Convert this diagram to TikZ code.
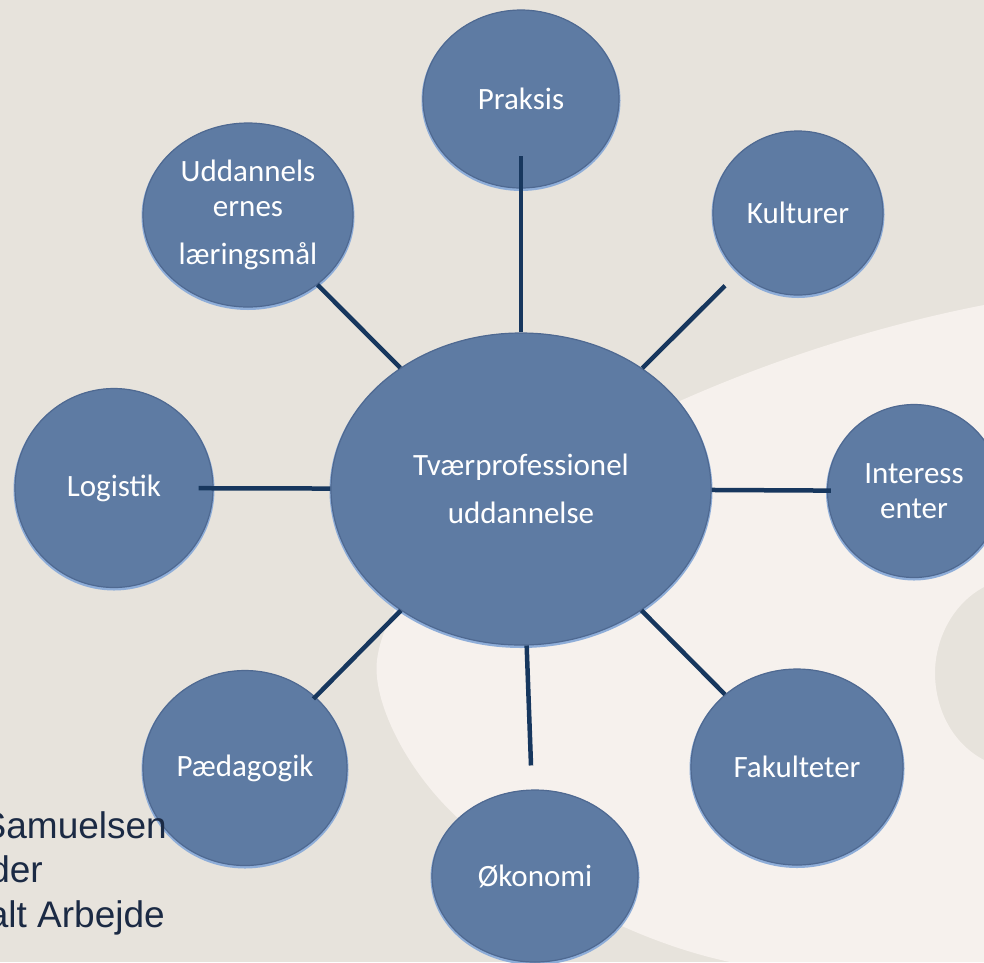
\documentclass[tikz,border=0pt]{standalone}
\usepackage{fontspec}
\usetikzlibrary{shapes.geometric}
\newfontfamily\carlito{Carlito}
\newfontfamily\libsans{Liberation Sans}
\definecolor{bgbeige}{HTML}{E7E3DC}
\definecolor{bglight}{HTML}{F6F1ED}
\definecolor{circfill}{HTML}{5E7BA3}
\definecolor{circrim}{HTML}{4F6991}
\definecolor{rimlight}{HTML}{8EADD8}
\definecolor{linkcol}{HTML}{17375E}
\definecolor{textdark}{HTML}{1B2A44}
\begin{document}
\begin{tikzpicture}[x=1pt,y=-1pt,
  bubble/.style={ellipse, inner sep=0pt, fill=circfill, draw=circrim, line width=1.2pt,
    text=white, font=\carlito\fontsize{31}{35}\selectfont, align=center,
    preaction={draw=rimlight, line width=3pt, transform canvas={yshift=-1.5pt}}},
  link/.style={draw=linkcol, line width=4.5pt},
  credit/.style={anchor=base east, text=textdark, inner sep=0pt,
    font=\libsans\fontsize{37}{44}\selectfont}]
\useasboundingbox (0,0) rectangle (984,962);
\clip (0,0) rectangle (984,962);
\fill[bgbeige] (0,0) rectangle (984,962);
\fill[bglight] (984,305) .. controls (700,360) and (395,520) .. (377,660)
  .. controls (372,700) and (405,770) .. (460,820)
  .. controls (548,900) and (650,945) .. (730,962)
  -- (984,962) -- (984,760)
  .. controls (950,742) and (935,706) .. (935,673)
  .. controls (935,640) and (952,604) .. (984,587) -- cycle;

\node[bubble, minimum width=380pt, minimum height=312pt] (main) at (521,489) {Tværprofessionel\\[13pt]uddannelse};
\node[bubble, minimum width=196pt, minimum height=178pt] (praksis) at (521,99) {Praksis};
\node[bubble, minimum width=170pt, minimum height=164pt] (kulturer) at (798,213) {Kulturer};
\node[bubble, minimum width=173pt, minimum height=173pt] (interessenter) at (914,491) {Interess\\enter};
\node[bubble, minimum width=212pt, minimum height=196pt] (fakulteter) at (797,767) {Fakulteter};
\node[bubble, minimum width=206pt, minimum height=172pt] (okonomi) at (535,876) {Økonomi};
\node[bubble, minimum width=204pt, minimum height=195pt] (paedagogik) at (245,768) {Pædagogik};
\node[bubble, minimum width=198pt, minimum height=199pt] (logistik) at (114,488) {Logistik};
\node[bubble, minimum width=210pt, minimum height=184pt] (uddannelse) at (248,215) {Uddannels\\ernes\\[13pt]læringsmål};

\draw[link, shorten >=-33pt] (main) -- (praksis);
\draw[link, shorten >=19pt] (main) -- (kulturer);
\draw[link, shorten >=-4pt] (main) -- (interessenter);
\draw[link] (main) -- (fakulteter);
\draw[link, shorten >=24pt] (main) -- (okonomi);
\draw[link, shorten >=-3pt] (main) -- (paedagogik);
\draw[link, shorten >=-15pt] (main) -- (logistik);
\draw[link] (main) -- (uddannelse);

\node[credit] (t1) at (167,838) {Samuelsen};
\node[credit] (t2) at (43,882) {der};
\node[credit] (t3) at (165,927) {alt Arbejde};
\end{tikzpicture}
\end{document}
